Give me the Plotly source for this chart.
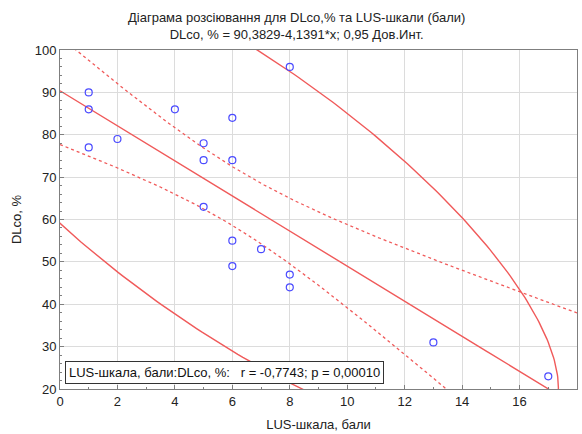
import numpy as np
import plotly.graph_objects as go

# ---- data ----
lus_score = [1, 1, 1, 2, 4, 5, 5, 5, 6, 6, 6, 6, 7, 8, 8, 8, 13, 17]
dlco_pct = [90, 86, 77, 79, 86, 78, 74, 63, 84, 74, 55, 49, 53, 96, 47, 44, 31, 23]

# regression coefficients printed in the chart subtitle
intercept = 90.3829
slope = -4.1391
t_crit = 2.1199          # t(0.975, df=16)
conf_level = 0.95

x_ticks = [0, 2, 4, 6, 8, 10, 12, 14, 16, 18]
y_ticks = [20, 30, 40, 50, 60, 70, 80, 90, 100]

title_1 = "Діаграма розсіювання для DLco,% та LUS-шкали (бали)"
title_2 = "DLco, % = 90,3829-4,1391*x; 0,95 Дов.Инт."
stat_text = "LUS-шкала, бали:DLco, %:   r = -0,7743; p = 0,00010"
x_title = "LUS-шкала, бали"
y_title = "DLco, %"

# ---- derived curves ----
x = np.array(lus_score, float)
y = np.array(dlco_pct, float)
n = len(x)
xm, ym = x.mean(), y.mean()
ssx = ((x - xm) ** 2).sum()
resid = y - (intercept + slope * x)
s = np.sqrt((resid ** 2).sum() / (n - 2))

xg = np.linspace(x_ticks[0], x_ticks[-1], 300)
yfit = intercept + slope * xg
half = t_crit * s * np.sqrt(1 / n + (xg - xm) ** 2 / ssx)

# 95% normal ellipse (F-based)
nu = n - 2
F = nu / 2 * ((1 - conf_level) ** (-2 / nu) - 1)
c = 2 * (n - 1) / (n - 2) * F
cov = np.cov(np.vstack([x, y]))
L = np.linalg.cholesky(cov)
th = np.linspace(0, 2 * np.pi, 400)
pts = np.sqrt(c) * (L @ np.vstack([np.cos(th), np.sin(th)]))
ex = xm + pts[0]
ey = ym + pts[1]

red = "#f05a5a"
blue = "#4a4aff"
font = "Liberation Sans, Arial, sans-serif"

fig = go.Figure()
fig.add_trace(go.Scatter(x=ex, y=ey, mode="lines", line=dict(color=red, width=1.4)))
fig.add_trace(go.Scatter(x=xg, y=yfit + half, mode="lines", line=dict(color=red, width=1.3, dash="dot")))
fig.add_trace(go.Scatter(x=xg, y=yfit - half, mode="lines", line=dict(color=red, width=1.3, dash="dot")))
fig.add_trace(go.Scatter(x=xg, y=yfit, mode="lines", line=dict(color=red, width=1.4)))
fig.add_trace(go.Scatter(x=lus_score, y=dlco_pct, mode="markers",
                         marker=dict(symbol="circle-open", size=7, color=blue, line=dict(width=1.2, color=blue))))

axis_common = dict(
    showgrid=True, gridcolor="#dcdcdc", gridwidth=1,
    showline=True, linecolor="#7f7f7f", linewidth=1, mirror=True,
    ticks="inside", ticklen=4, tickcolor="#7f7f7f",
    zeroline=False,
    tickfont=dict(family=font, size=13, color="#222222"),
)
fig.update_xaxes(range=[x_ticks[0], x_ticks[-1]], tickvals=x_ticks,
                 minor=dict(dtick=1, ticks="inside", ticklen=2, tickcolor="#7f7f7f", showgrid=False),
                 title=dict(text=x_title, font=dict(family=font, size=13, color="#222222"), standoff=12),
                 **axis_common)
fig.update_yaxes(range=[y_ticks[0], y_ticks[-1]], tickvals=y_ticks,
                 minor=dict(dtick=2, ticks="inside", ticklen=2, tickcolor="#7f7f7f", showgrid=False),
                 title=dict(text=y_title, font=dict(family=font, size=13, color="#222222"), standoff=10),
                 **axis_common)

fig.add_annotation(xref="paper", yref="paper", x=0.458, y=1.0, yshift=6, showarrow=False,
                   text=title_1 + "<br>" + title_2, align="center", yanchor="bottom",
                   font=dict(family=font, size=13, color="#222222"))
fig.add_annotation(xref="paper", yref="paper", x=0.01, y=0.015, xanchor="left", yanchor="bottom",
                   showarrow=False, text=stat_text, bgcolor="white",
                   bordercolor="#333333", borderwidth=1, borderpad=3,
                   font=dict(family=font, size=13, color="#111111"))

fig.update_layout(
    width=582, height=434,
    margin=dict(l=60, r=5, t=50, b=45),
    paper_bgcolor="white", plot_bgcolor="white",
    showlegend=False,
    font=dict(family=font),
)

fig.write_html("out.html", config={"displayModeBar": False})
